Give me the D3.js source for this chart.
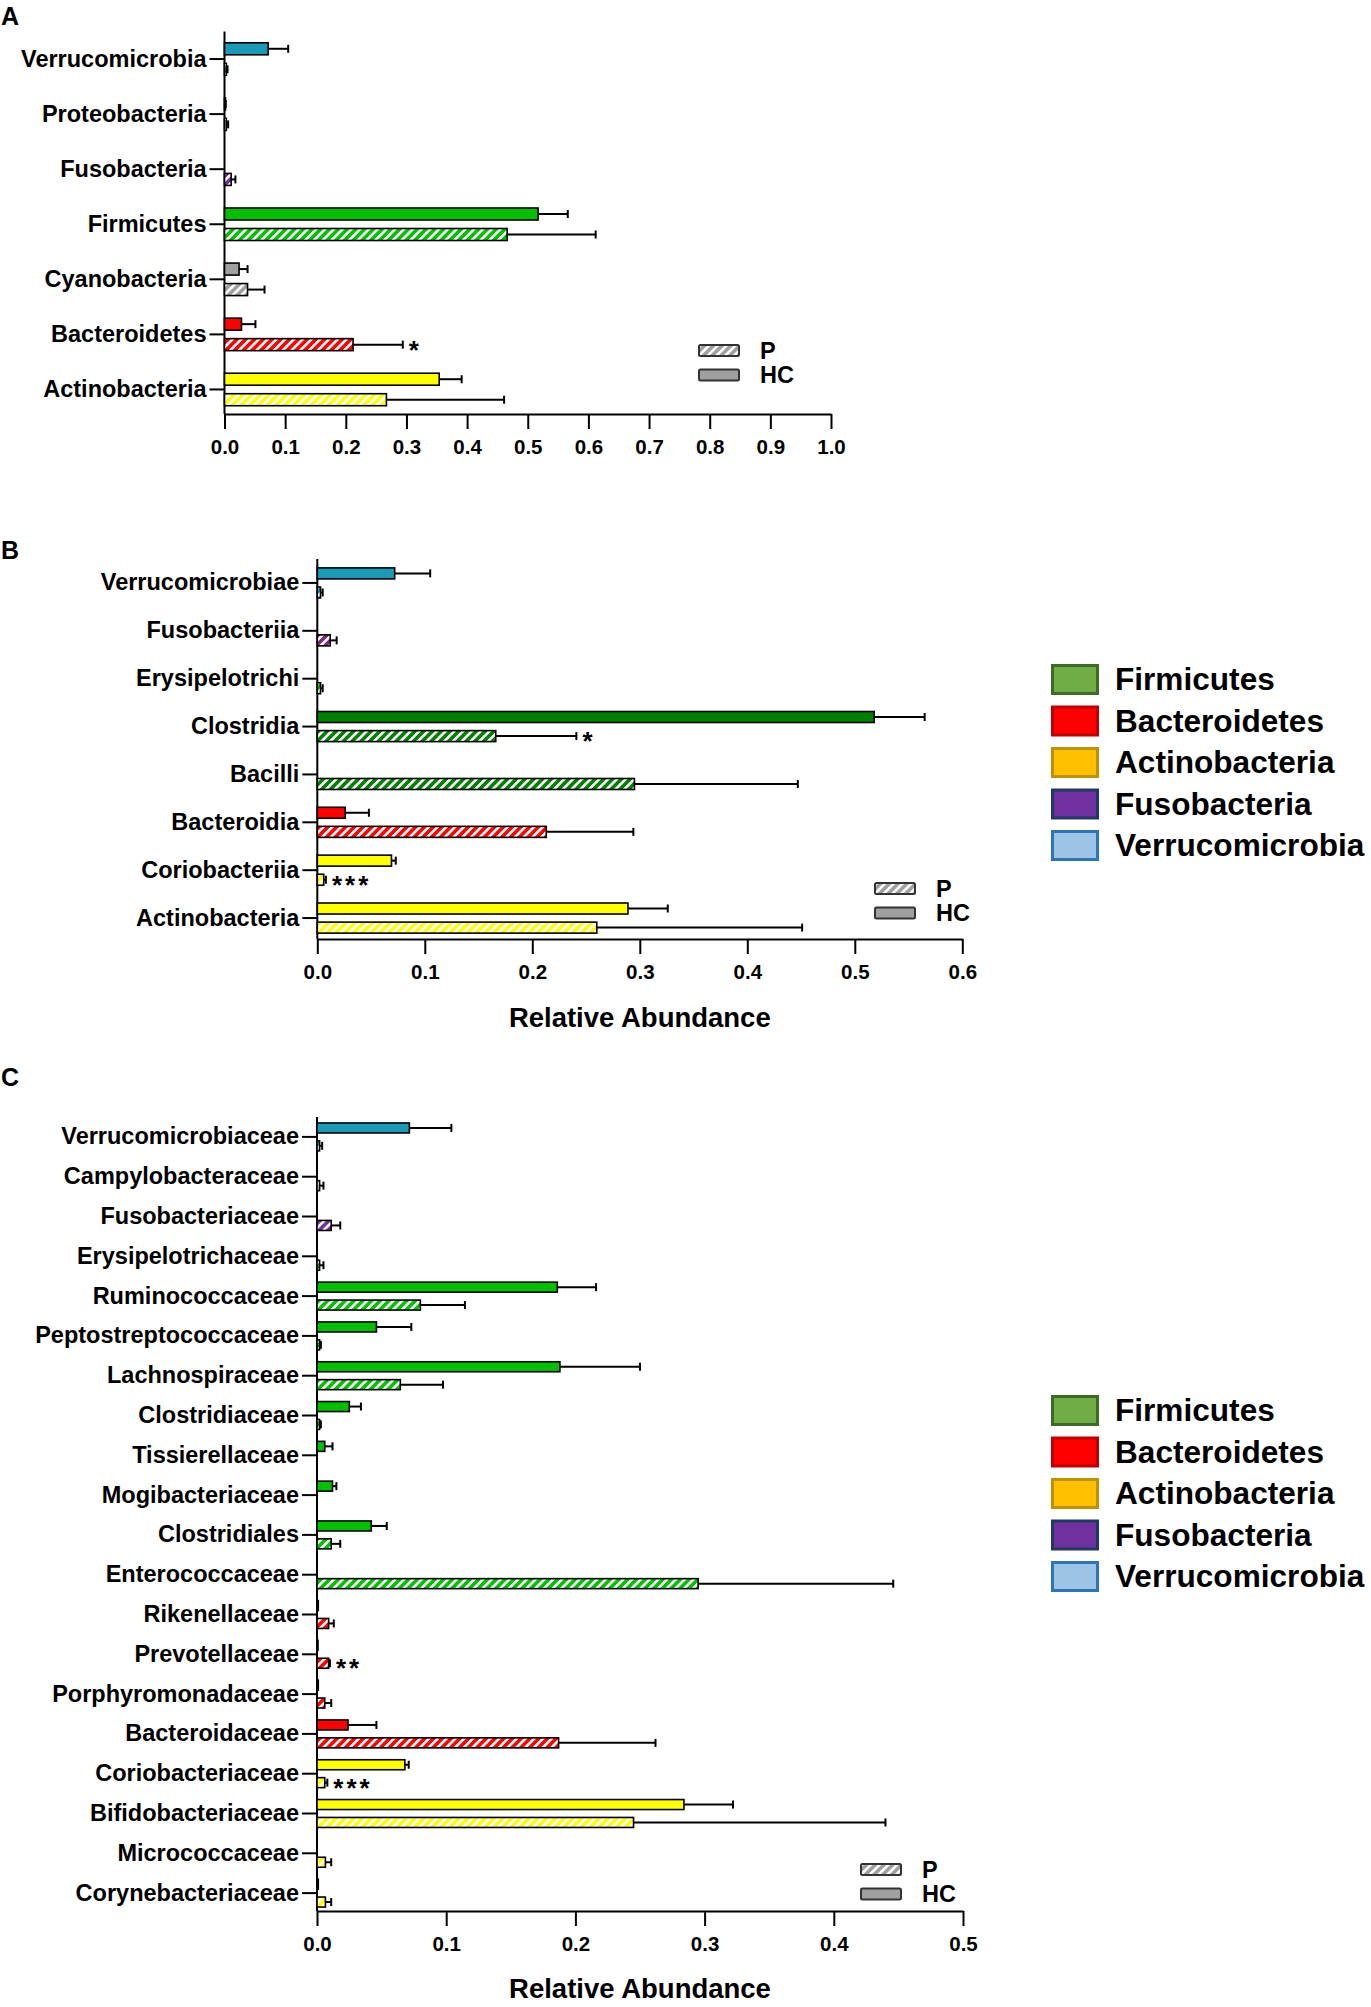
<!DOCTYPE html>
<html>
<head>
<meta charset="utf-8">
<script src="https://cdn.jsdelivr.net/npm/d3@7"></script>
<style>
  body { margin: 0; background: #fff; }
  text { font-family: Arial, "Liberation Sans", sans-serif; font-weight: bold; fill: #000; }
</style>
</head>
<body>
<div id="chart"></div>
<script>
// ---- colours
const TEAL = '#1b9ab8', GREEN = '#00c000', DKGREEN = '#008000', RED = '#ff0000',
      YELLOW = '#ffff00', GRAY = '#a0a0a0', PURPLE = '#7030a0', DKPURPLE = '#7b2a7b', PALE = '#d0d0d0';

// ---- panel A: phylum
const phylumCats = ['Verrucomicrobia', 'Proteobacteria', 'Fusobacteria', 'Firmicutes', 'Cyanobacteria', 'Bacteroidetes', 'Actinobacteria'];
const phylumHC   = [0.072, 0.001, 0, 0.517, 0.024, 0.028, 0.354];
const phylumHCsd = [0.033, 0.001, 0, 0.049, 0.014, 0.023, 0.037];
const phylumP    = [0.003, 0.003, 0.011, 0.466, 0.038, 0.212, 0.267];
const phylumPsd  = [0.002, 0.003, 0.007, 0.146, 0.028, 0.082, 0.194];
const phylumStars = ['', '', '', '', '', '*', ''];
const phylumColors = [TEAL, PALE, PURPLE, GREEN, GRAY, RED, YELLOW];

// ---- panel B: class
const classCats = ['Verrucomicrobiae', 'Fusobacteriia', 'Erysipelotrichi', 'Clostridia', 'Bacilli', 'Bacteroidia', 'Coriobacteriia', 'Actinobacteria'];
const classHC   = [0.072, 0, 0, 0.518, 0, 0.026, 0.069, 0.289];
const classHCsd = [0.033, 0, 0, 0.047, 0, 0.022, 0.004, 0.037];
const classP    = [0.003, 0.012, 0.003, 0.166, 0.295, 0.213, 0.006, 0.260];
const classPsd  = [0.002, 0.006, 0.002, 0.075, 0.152, 0.081, 0.002, 0.191];
const classStars = ['', '', '', '*', '', '', '***', ''];
const classColors = [TEAL, DKPURPLE, GREEN, DKGREEN, DKGREEN, RED, YELLOW, YELLOW];

// ---- panel C: family
const familyCats = ['Verrucomicrobiaceae', 'Campylobacteraceae', 'Fusobacteriaceae', 'Erysipelotrichaceae',
  'Ruminococcaceae', 'Peptostreptococcaceae', 'Lachnospiraceae', 'Clostridiaceae', 'Tissierellaceae',
  'Mogibacteriaceae', 'Clostridiales', 'Enterococcaceae', 'Rikenellaceae', 'Prevotellaceae',
  'Porphyromonadaceae', 'Bacteroidaceae', 'Coriobacteriaceae', 'Bifidobacteriaceae', 'Micrococcaceae', 'Corynebacteriaceae'];
const familyHC   = [0.0715, 0, 0, 0, 0.186, 0.046, 0.188, 0.025, 0.006, 0.012, 0.042, 0, 0.001, 0.0005, 0.001, 0.024, 0.068, 0.284, 0, 0.001];
const familyHCsd = [0.0325, 0, 0, 0, 0.030, 0.027, 0.062, 0.009, 0.006, 0.003, 0.012, 0, 0, 0, 0, 0.022, 0.003, 0.038, 0, 0];
const familyP    = [0.002, 0.002, 0.011, 0.002, 0.080, 0.002, 0.0645, 0.002, 0, 0, 0.011, 0.295, 0.009, 0.009, 0.006, 0.187, 0.006, 0.245, 0.0065, 0.0065];
const familyPsd  = [0.002, 0.003, 0.007, 0.003, 0.0345, 0.001, 0.033, 0.001, 0, 0, 0.007, 0.151, 0.004, 0.001, 0.005, 0.075, 0.002, 0.195, 0.0045, 0.0045];
const familyStars = ['', '', '', '', '', '', '', '', '', '', '', '', '', '**', '', '', '***', '', '', ''];
const familyColors = [TEAL, PALE, PURPLE, GREEN, GREEN, GREEN, GREEN, GREEN, GREEN, GREEN, GREEN, GREEN,
  RED, RED, RED, RED, YELLOW, YELLOW, YELLOW, YELLOW];

// ---- phylum colour legend (panels B and C)
const legendNames  = ['Firmicutes', 'Bacteroidetes', 'Actinobacteria', 'Fusobacteria', 'Verrucomicrobia'];
const legendFills  = ['#70ad47', '#ff0000', '#ffc000', '#7030a0', '#9dc3e6'];
const legendStroke = ['#3d6b26', '#c00000', '#bf9000', '#1f3864', '#2e75b6'];

const groupNames = ['P', 'HC'];

const FONT = 'Arial, "Liberation Sans", sans-serif';

const svg = d3.select('#chart').append('svg')
  .attr('width', 1371)
  .attr('height', 2007);

const defs = svg.append('defs');
const hatchIds = {};
function hatch(color) {
  if (hatchIds[color]) return hatchIds[color];
  const id = 'hatch' + Object.keys(hatchIds).length;
  const pat = defs.append('pattern')
    .attr('id', id)
    .attr('patternUnits', 'userSpaceOnUse')
    .attr('width', 6.2)
    .attr('height', 6.2)
    .attr('patternTransform', 'rotate(45)');
  pat.append('rect').attr('width', 6.2).attr('height', 6.2).attr('fill', color);
  pat.append('rect').attr('width', 2.6).attr('height', 6.2).attr('fill', '#fff');
  hatchIds[color] = 'url(#' + id + ')';
  return hatchIds[color];
}

function drawPanel(cfg) {
  const x = d3.scaleLinear().domain([0, cfg.xMax]).range([cfg.x0, cfg.x1]);
  const y = d3.scaleBand().domain(cfg.cats).range(cfg.yRange);
  const g = svg.append('g');

  // panel letter
  g.append('text')
    .attr('x', 1)
    .attr('y', cfg.letterY)
    .attr('font-size', '25px')
    .text(cfg.letter);

  // x axis
  const xAxis = g.append('g')
    .attr('transform', `translate(0,${cfg.axisY})`)
    .call(d3.axisBottom(x)
      .tickValues(d3.range(0, cfg.xMax + 1e-9, 0.1))
      .tickFormat(d3.format('.1f'))
      .tickSize(15)
      .tickSizeOuter(0)
      .tickPadding(10));
  xAxis.select('.domain').attr('stroke', '#000').attr('stroke-width', 2);
  xAxis.selectAll('.tick line').attr('stroke', '#000').attr('stroke-width', 2);
  xAxis.selectAll('.tick text')
    .attr('font-size', '20.5px')
    .attr('font-family', FONT)
    .attr('font-weight', 'bold')
    .attr('fill', '#000');

  // y axis
  const yAxis = g.append('g')
    .attr('transform', `translate(${cfg.x0},0)`)
    .call(d3.axisLeft(y).tickSize(15).tickPadding(3));
  yAxis.select('.domain').remove();
  yAxis.selectAll('.tick line').attr('stroke', '#000').attr('stroke-width', 2);
  yAxis.selectAll('.tick text')
    .attr('font-size', '23.5px')
    .attr('font-family', FONT)
    .attr('font-weight', 'bold')
    .attr('fill', '#000');
  g.append('line')
    .attr('x1', cfg.x0).attr('x2', cfg.x0)
    .attr('y1', cfg.yRange[0]).attr('y2', cfg.axisY)
    .attr('stroke', '#000').attr('stroke-width', 2);

  // bar rows
  const rows = cfg.cats.map((c, i) => ({
    cat: c, color: cfg.colors[i], star: cfg.stars[i],
    hc: cfg.hc[i], hcSd: cfg.hcSd[i], p: cfg.p[i], pSd: cfg.pSd[i]
  }));
  const bars = [];
  rows.forEach(r => {
    const mid = y(r.cat) + y.bandwidth() / 2;
    bars.push({ row: r, group: 'HC', v: r.hc, sd: r.hcSd, top: mid - cfg.gap - cfg.barH });
    bars.push({ row: r, group: 'P', v: r.p, sd: r.pSd, top: mid + cfg.gap });
  });
  const drawn = bars.filter(b => b.v > 0 || b.sd > 0);

  const bg = g.append('g');
  // error bars
  bg.selectAll('line.err')
    .data(drawn.filter(b => b.sd > 0))
    .join('line')
    .attr('class', 'err')
    .attr('x1', b => x(b.v)).attr('x2', b => x(b.v + b.sd))
    .attr('y1', b => b.top + cfg.barH / 2).attr('y2', b => b.top + cfg.barH / 2)
    .attr('stroke', '#000').attr('stroke-width', 2);
  bg.selectAll('line.cap')
    .data(drawn.filter(b => b.sd > 0))
    .join('line')
    .attr('class', 'cap')
    .attr('x1', b => x(b.v + b.sd)).attr('x2', b => x(b.v + b.sd))
    .attr('y1', b => b.top + cfg.barH / 2 - 4).attr('y2', b => b.top + cfg.barH / 2 + 4)
    .attr('stroke', '#000').attr('stroke-width', 2);

  bg.selectAll('rect.bar')
    .data(drawn)
    .join('rect')
    .attr('class', 'bar')
    .attr('x', x(0))
    .attr('y', b => b.top + 0.75)
    .attr('width', b => Math.max(1, x(b.v) - x(0)))
    .attr('height', cfg.barH - 1.5)
    .attr('fill', b => b.group === 'P' ? hatch(b.row.color) : b.row.color)
    .attr('stroke', '#000')
    .attr('stroke-width', 1.6);

  // significance stars
  g.selectAll('text.star')
    .data(bars.filter(b => b.group === 'P' && b.row.star))
    .join('text')
    .attr('class', 'star')
    .attr('x', b => x(b.v + b.sd) + 6)
    .attr('y', b => b.top + cfg.barH / 2 + 14)
    .attr('font-size', '26px')
    .attr('letter-spacing', '3px')
    .text(b => b.row.star);

  // P / HC legend
  const lg = g.append('g').attr('transform', `translate(${cfg.legend[0]},${cfg.legend[1]})`);
  groupNames.forEach((name, i) => {
    lg.append('rect')
      .attr('x', 0).attr('y', i * 24.5)
      .attr('width', 40).attr('height', 11)
      .attr('rx', 1.5)
      .attr('fill', name === 'P' ? hatch(GRAY) : GRAY)
      .attr('stroke', '#333').attr('stroke-width', 2);
    lg.append('text')
      .attr('x', 61).attr('y', i * 24.5 + 5.5)
      .attr('dy', '0.36em')
      .attr('font-size', '23.5px')
      .text(name);
  });

  if (cfg.axisLabelY) {
    g.append('text')
      .attr('x', (cfg.x0 + cfg.x1) / 2)
      .attr('y', cfg.axisLabelY)
      .attr('text-anchor', 'middle')
      .attr('font-size', '27.5px')
      .text('Relative Abundance');
  }
}

function drawPhylumLegend(top) {
  const lg = svg.append('g').attr('transform', `translate(1051,${top})`);
  legendNames.forEach((name, i) => {
    lg.append('rect')
      .attr('x', 1.5).attr('y', i * 41.5 + 1.5)
      .attr('width', 45).attr('height', 28)
      .attr('fill', legendFills[i])
      .attr('stroke', legendStroke[i])
      .attr('stroke-width', 3);
    lg.append('text')
      .attr('x', 64).attr('y', i * 41.5 + 15)
      .attr('dy', '0.36em')
      .attr('font-size', '31.6px')
      .text(name);
  });
}

drawPanel({
  letter: 'A', letterY: 25,
  cats: phylumCats, hc: phylumHC, hcSd: phylumHCsd, p: phylumP, pSd: phylumPsd,
  stars: phylumStars, colors: phylumColors,
  xMax: 1.0, x0: 224.5, x1: 831, yRange: [31.5, 417], axisY: 414,
  barH: 13.5, gap: 3.5, legend: [699, 345]
});

drawPanel({
  letter: 'B', letterY: 559,
  cats: classCats, hc: classHC, hcSd: classHCsd, p: classP, pSd: classPsd,
  stars: classStars, colors: classColors,
  xMax: 0.6, x0: 317.3, x1: 962.3, yRange: [559, 942], axisY: 939,
  barH: 12.5, gap: 3.3, legend: [875, 883], axisLabelY: 1027
});

drawPanel({
  letter: 'C', letterY: 1086,
  cats: familyCats, hc: familyHC, hcSd: familyHCsd, p: familyP, pSd: familyPsd,
  stars: familyStars, colors: familyColors,
  xMax: 0.5, x0: 317, x1: 963, yRange: [1117, 1913], axisY: 1911,
  barH: 11.5, gap: 3.2, legend: [861, 1864], axisLabelY: 1998
});

drawPhylumLegend(664);
drawPhylumLegend(1395);
</script>
</body>
</html>
